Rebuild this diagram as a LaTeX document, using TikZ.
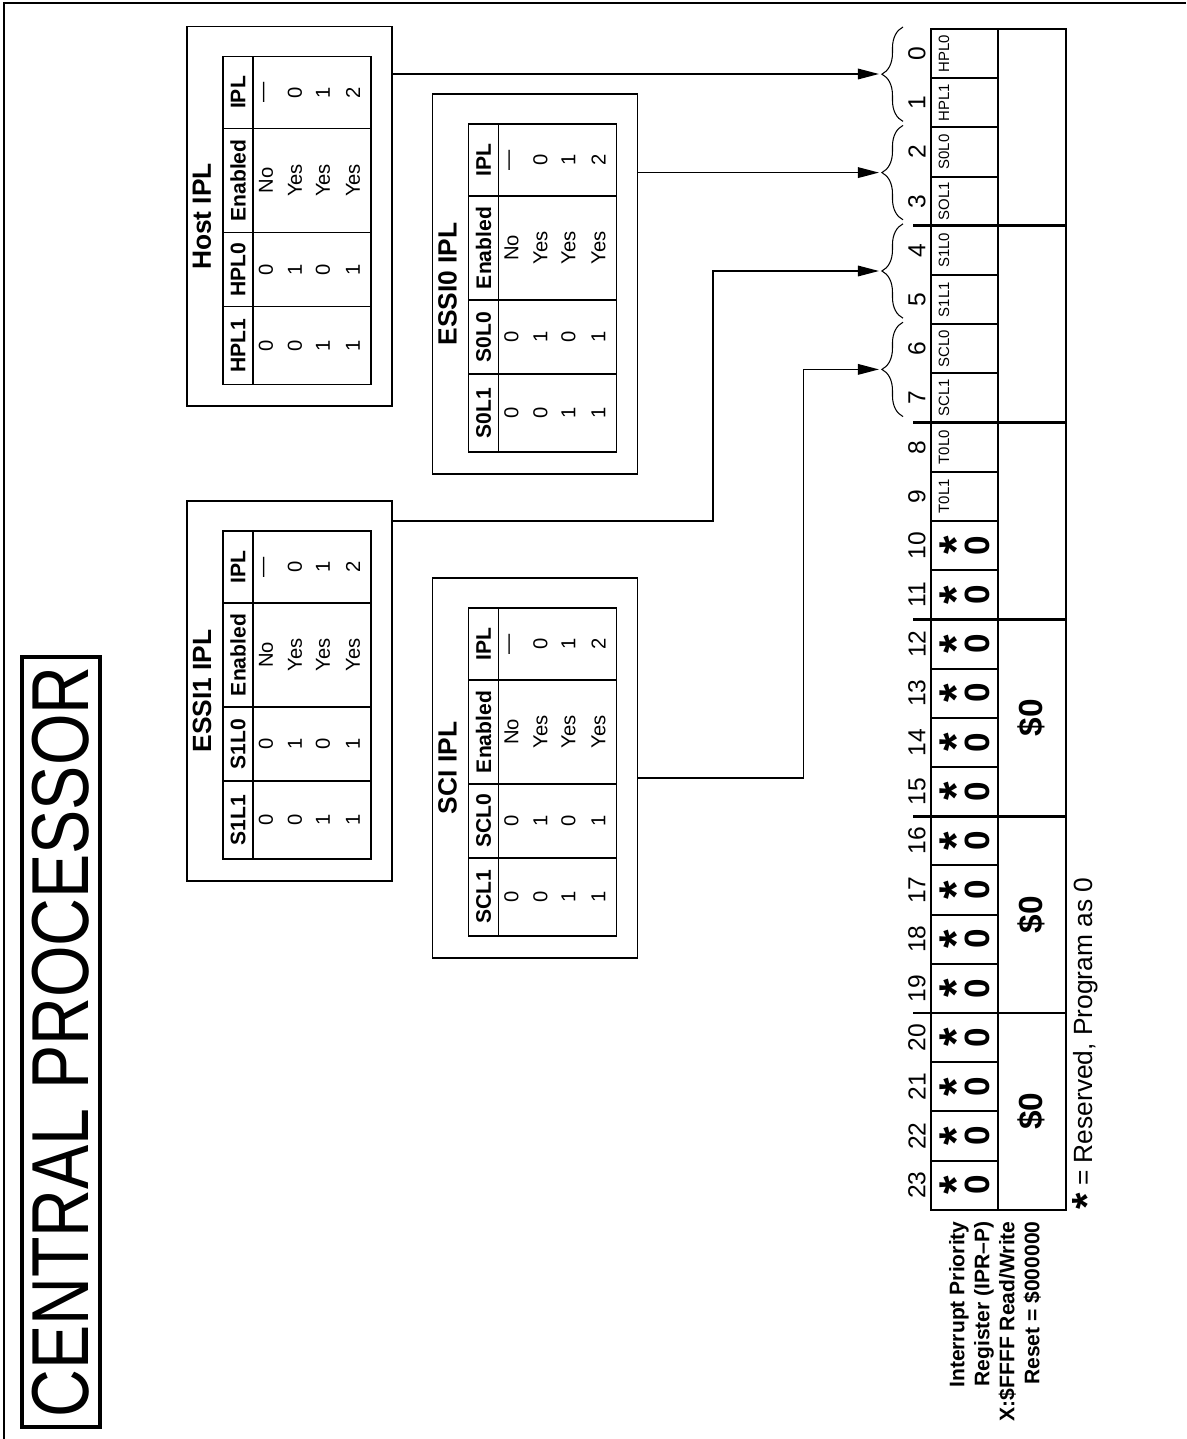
\documentclass[tikz,border=0pt]{standalone}
\usepackage{fontspec}
\setmainfont{Liberation Sans}
\usetikzlibrary{arrows.meta, decorations.pathreplacing, calc}

\begin{document}
\begin{tikzpicture}[x=0.02cm, y=-0.02cm,
  ipl box/.style={draw, line width=1.1pt, minimum width=4.1cm, minimum height=7.6cm},
  boxtitle/.style={rotate=90, inner sep=0pt, font=\fontsize{15}{16}\bfseries\selectfont},
  hdr/.style={rotate=90, inner sep=0pt, font=\fontsize{12}{13}\bfseries\selectfont},
  cell/.style={rotate=90, inner sep=0pt, font=\fontsize{11.5}{12}\selectfont},
  tbl/.style={line width=0.9pt},
  reg/.style={line width=1.1pt},
  grp/.style={line width=1.6pt},
  link/.style={line width=0.9pt, -{Triangle[length=12pt, width=6pt]}}]
\useasboundingbox (0,0) rectangle (1186,1439);
\draw[line width=1.4pt] (4,1439) -- (4,3) -- (1186,3);

% title
\node[draw, line width=2.2pt, rotate=90, minimum width=15.4cm, minimum height=1.56cm, inner sep=0pt, font=\fontsize{46}{50}\selectfont] (cpu) at (61,1042) {\scalebox{0.82}[1]{CENTRAL PROCESSOR}};

% IPL tables
\foreach \nm/\cx/\cy/\ttl/\ca/\cb in {host/289.5/216.5/Host IPL/HPL1/HPL0, essi0/535/284/ESSI0 IPL/S0L1/S0L0, essi1/289.5/691/ESSI1 IPL/S1L1/S1L0, sci/535/768/SCI IPL/SCL1/SCL0} {
  \node[ipl box] (\nm) at (\cx,\cy) {};
  \pgfmathsetmacro\L{\cx-102.5}
  \pgfmathsetmacro\T{\cy-160}
  \node[boxtitle] at (\L+15,\cy) {\ttl};
  \draw[tbl] (\L+36,\T) rectangle (\L+184,\T+328);
  \draw[tbl] (\L+66,\T) -- (\L+66,\T+328);
  \foreach \dy in {72,176,250} \draw[tbl] (\L+36,\T+\dy) -- (\L+184,\T+\dy);
  \node[hdr] at (\L+51,\T+36) {IPL};
  \node[hdr] at (\L+51,\T+124) {Enabled};
  \node[hdr] at (\L+51,\T+213) {\cb};
  \node[hdr] at (\L+51,\T+289) {\ca};
  \foreach \dx/\va/\vb/\ve/\vp in {79/0/0/No/\textemdash, 108/0/1/Yes/0, 136/1/0/Yes/1, 166/1/1/Yes/2} {
    \node[cell] at (\L+\dx,\T+36) {\vp};
    \node[cell] at (\L+\dx,\T+124) {\ve};
    \node[cell] at (\L+\dx,\T+213) {\vb};
    \node[cell] at (\L+\dx,\T+289) {\va};
  }
}

% register
\def\bh{49.2}
\foreach \b in {0,...,23}
  \node[rotate=90, inner sep=0pt, font=\fontsize{14}{16}\selectfont] (bit\b) at (917,29+\bh*\b+\bh/2) {\b};
\foreach \b in {1,...,23} \draw[reg] (931,29+\bh*\b) -- (998,29+\bh*\b);
\foreach \g in {1,...,5} \draw[grp] (913,29+\bh*4*\g) -- (1066,29+\bh*4*\g);
\draw[reg] (931,29) rectangle (1066,1210);
\draw[reg] (998,29) -- (998,1210);
\foreach \b/\f in {0/HPL0,1/HPL1,2/S0L0,3/SOL1,4/S1L0,5/S1L1,6/SCL0,7/SCL1,8/T0L0,9/T0L1}
  \node[rotate=90, inner sep=0pt, font=\fontsize{8.5}{9}\selectfont] at (944,29+\bh*\b+\bh/2) {\f};
\foreach \b in {10,...,23} {
  \node[rotate=90, inner sep=0pt, font=\fontsize{27}{28}\bfseries\selectfont] at (956,29+\bh*\b+\bh/2) {*};
  \node[rotate=90, inner sep=0pt, font=\fontsize{20}{22}\bfseries\selectfont] at (977,29+\bh*\b+\bh/2) {0};
}
\foreach \g in {14,18,22}
  \node[rotate=90, inner sep=0pt, font=\fontsize{19}{20}\bfseries\selectfont] at (1031,29+\bh*\g) {\$0};

% braces
\foreach \k in {0,...,3}
  \draw[line width=0.6pt, decorate, decoration={brace, amplitude=12pt}] (903,29+98.4*\k+92.4) -- (903,29+98.4*\k-2);
\coordinate (tipHost) at (879,74);
\coordinate (tipEssi0) at (879,172.6);
\coordinate (tipEssi1) at (879,271);
\coordinate (tipSci) at (879,369.4);

\draw[link] (host.east |- tipHost) -- (tipHost);
\draw[link] (essi0.east |- tipEssi0) -- (tipEssi0);
\draw[link] ($(essi1.north east)+(0,21)$) -- ++(320,0) |- (tipEssi1);
\draw[link] ($(sci.east)+(0,10)$) -- ++(165,0) |- (tipSci);

% labels
\node[rotate=90, anchor=east, align=right, inner sep=0pt, font=\fontsize{12}{14.2}\bfseries\selectfont] (iprlbl) at (995,1221) {Interrupt Priority\\Register (IPR--P)\\X:\$FFFF Read/Write\\Reset = \$000000};
\node[rotate=90, anchor=west, inner sep=0pt, font=\fontsize{15}{16}\selectfont] (note) at (1087,1210) {\raisebox{-5pt}{\fontsize{24}{24}\bfseries *} = Reserved, Program as 0};
\end{tikzpicture}
\end{document}
